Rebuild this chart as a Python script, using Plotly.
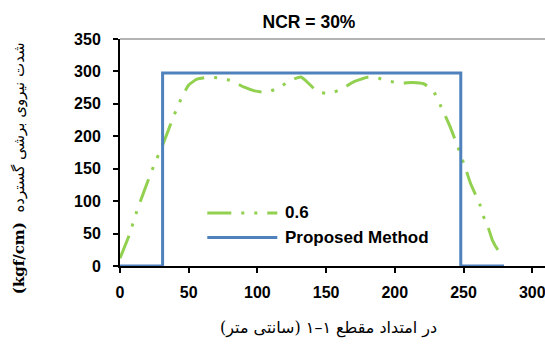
import plotly.graph_objects as go

# Data
x_06 = [0, 6.6, 12, 18, 24.3, 31.5, 37.6, 41, 45, 50, 56, 63, 73, 82, 90, 98, 106, 115, 123, 131.7, 138, 144,
        153, 162, 170, 180, 186, 194.5, 204, 213, 221, 228, 232, 236, 240, 246, 249, 252, 255, 262, 264.4, 268, 271, 275, 279]
y_06 = [12, 47, 83, 118, 153, 189, 223, 241, 260, 279, 288, 290.7, 290, 285, 276, 270, 268, 274, 285, 291.5, 280, 268.5,
        266, 274, 284, 291, 291, 285.5, 282, 283, 281, 270, 253, 235, 216, 183, 165, 147, 128, 94, 77, 59, 40, 25, 16.5]
x_pm = [0, 31, 31, 248, 248, 279.5]
y_pm = [0, 0, 297.5, 297.5, 0, 0]

series_names = ["0.6", "Proposed Method"]
title_text = "NCR = 30%"
x_title = "در امتداد مقطع ۱–۱ (سانتی متر)"
y_title = "<b>(kgf/cm)</b>  شدت نیروی برشی گسترده"
x_ticks = [0, 50, 100, 150, 200, 250, 300]
y_ticks = [0, 50, 100, 150, 200, 250, 300, 350]

GREEN = "#92D050"
BLUE = "#4F81BD"
DASH = "24px,10px,3px,10px,3px,10px"

fig = go.Figure()
fig.add_trace(go.Scatter(x=x_06, y=y_06, mode="lines", name=series_names[0],
                         line=dict(color=GREEN, width=3, dash=DASH, shape="spline", smoothing=0.5)))
fig.add_trace(go.Scatter(x=x_pm, y=y_pm, mode="lines", name=series_names[1],
                         line=dict(color=BLUE, width=3)))

font_main = "Liberation Sans, Arial, sans-serif"

L, T, B = 120, 39, 345 - 265.7
PW, PH = 545 - L, 265.7 - 39

def px(xp):
    return (xp - L) / PW

def py(yp):
    return (265.7 - yp) / PH

fig.update_layout(
    width=545, height=345,
    margin=dict(l=L, r=0, t=T, b=B),
    plot_bgcolor="white", paper_bgcolor="white",
    showlegend=False,
    font=dict(family=font_main, size=16, color="black"),
    title=dict(text="<b>" + title_text + "</b>", x=309/545, xanchor="center",
               y=1 - 21.5/345, yanchor="middle", font=dict(size=17.5, family=font_main)),
    xaxis=dict(range=[0, 309.3], tickvals=x_ticks, ticktext=["<b>%d</b>" % v for v in x_ticks],
               showgrid=False, zeroline=False, showline=True, linecolor="black", linewidth=2,
               ticks="outside", ticklen=5, tickwidth=1.5, tickcolor="black", ticklabelstandoff=6,
               ticklabeloverflow="allow"),
    yaxis=dict(range=[0, 350], tickvals=y_ticks, ticktext=["<b>%d</b>" % v for v in y_ticks],
               showgrid=False, zeroline=False, showline=True, linecolor="black", linewidth=2,
               ticks="outside", ticklen=5, tickwidth=1.5, tickcolor="black", ticklabelstandoff=9),
)

# top border line
fig.add_shape(type="line", xref="paper", yref="paper", x0=0, x1=1, y0=1, y1=1,
              line=dict(color="#9a9a9a", width=1.5))

# manual legend
leg_y = [py(212.7), py(237.3)]
colors = [GREEN, BLUE]
dashes = [DASH, "solid"]
for i in range(2):
    fig.add_shape(type="line", xref="paper", yref="paper", x0=px(207.3), x1=px(277.3),
                  y0=leg_y[i], y1=leg_y[i], line=dict(color=colors[i], width=3, dash=dashes[i]))
    fig.add_annotation(text="<b>" + series_names[i] + "</b>", xref="paper", yref="paper",
                       x=px(283), y=leg_y[i], xanchor="left", yanchor="middle",
                       showarrow=False, font=dict(size=17, family=font_main))

# axis titles
fig.add_annotation(text=x_title, xref="paper", yref="paper", x=px(328), y=py(328),
                   xanchor="center", yanchor="middle", showarrow=False,
                   font=dict(size=16, family="DejaVu Serif, DejaVu Sans, serif"))
fig.add_annotation(text=y_title, xref="paper", yref="paper", x=px(19), y=py(168),
                   xanchor="center", yanchor="middle", textangle=-90, showarrow=False,
                   font=dict(size=15, family="DejaVu Serif, DejaVu Sans, serif"))

fig.write_html("out.html", config={"displayModeBar": False},
               post_script="document.body.style.margin='0';document.body.style.padding='0';")
